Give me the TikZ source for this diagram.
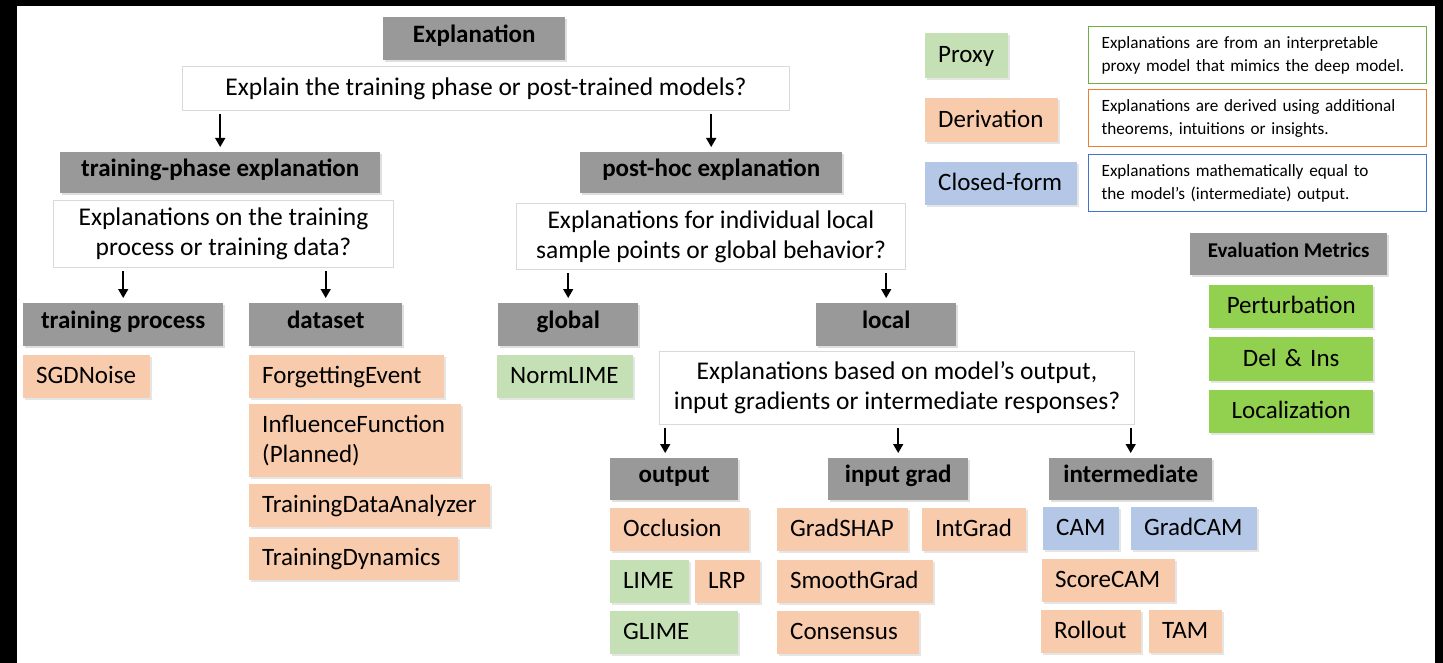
\documentclass[tikz,border=0pt]{standalone}
\usepackage{fontspec}
\setmainfont{Carlito}
\usetikzlibrary{arrows.meta,shadows}

\definecolor{headgray}{HTML}{999999}
\definecolor{derivfill}{HTML}{F8CBAD}
\definecolor{proxyfill}{HTML}{C5E0B4}
\definecolor{closedfill}{HTML}{B4C7E7}
\definecolor{metricfill}{HTML}{92D050}
\definecolor{qborder}{HTML}{D9D9D9}
\definecolor{proxyline}{HTML}{70AD47}
\definecolor{derivline}{HTML}{ED7D31}
\definecolor{closedline}{HTML}{4472C4}

\begin{document}
\begin{tikzpicture}[x=1pt, y=-1pt,
    head/.style={anchor=north west, fill=headgray, inner sep=0pt,
      font=\bfseries\fontsize{25}{29}\selectfont, text height=17pt, text depth=10pt,
      drop shadow={opacity=0.25, shadow xshift=1.5pt, shadow yshift=-1.5pt}},
    question/.style={anchor=north west, draw=qborder, line width=1pt, fill=white,
      inner sep=0pt, align=center, font=\fontsize{25.5}{30}\selectfont},
    method/.style={anchor=north west, inner xsep=13pt, inner ysep=0pt, minimum height=43pt,
      align=left, font=\fontsize{25}{30}\selectfont, text height=17pt, text depth=3pt,
      drop shadow={opacity=0.2, shadow xshift=1.5pt, shadow yshift=-1.5pt}},
    deriv/.style={method, fill=derivfill},
    proxy/.style={method, fill=proxyfill},
    closed/.style={method, fill=closedfill},
    metric/.style={method, fill=metricfill, align=center, text width=138pt},
    desc/.style={anchor=north west, line width=1.2pt, fill=white, inner xsep=13pt, inner ysep=0pt,
      minimum height=57pt, text width=312pt, align=left, font=\fontsize{17.2}{23}\selectfont},
    arr/.style={-{Triangle[length=9pt,width=10pt]}, line width=1.6pt, shorten <=3pt, shorten >=5pt}]

    % Frame
    \useasboundingbox (0,0) rectangle (1443,663);
    \fill[black] (0,0) rectangle (1443,663);
    \fill[white] (17,6) rectangle (1435,663);

    % Tree headers
    \node[head, minimum width=182pt, minimum height=43pt] (expl) at (383,17) {Explanation};
    \node[head, minimum width=320pt, minimum height=41pt] (tphase) at (60,152) {training-phase explanation};
    \node[head, minimum width=262pt, minimum height=41pt] (posthoc) at (580,152) {post-hoc explanation};
    \node[head, minimum width=200pt, minimum height=43pt] (tproc) at (23,303) {training process};
    \node[head, minimum width=153pt, minimum height=43pt] (dataset) at (249,303) {dataset};
    \node[head, minimum width=140pt, minimum height=43pt] (global) at (498,303) {global};
    \node[head, minimum width=140pt, minimum height=43pt] (local) at (816,303) {local};
    \node[head, minimum width=128pt, minimum height=42pt] (outhead) at (610,458) {output};
    \node[head, minimum width=140pt, minimum height=42pt] (inhead) at (828,458) {input grad};
    \node[head, minimum width=163pt, minimum height=42pt] (midhead) at (1049,458) {intermediate};

    % Questions
    \node[question, minimum width=607pt, minimum height=44pt] (q1) at (182,66)
        {Explain the training phase or post-trained models?};
    \node[question, minimum width=340pt, minimum height=67pt] (q2) at (53,200)
        {Explanations on the training\\process or training data?};
    \node[question, minimum width=389pt, minimum height=66pt] (q3) at (516,203)
        {Explanations for individual local\\sample points or global behavior?};
    \node[question, minimum width=475pt, minimum height=73pt] (q4) at (659,351)
        {Explanations based on model's output,\\input gradients or intermediate responses?};

    % Methods
    \node[deriv, text width=101pt] (sgd) at (23,355) {SGDNoise};
    \node[deriv, text width=169pt] (forget) at (249,355) {ForgettingEvent};
    \node[deriv, text width=186pt, minimum height=73pt, text height=, text depth=] (influence) at (249,404)
        {InfluenceFunction\\(Planned)};
    \node[deriv, text width=215pt] (tda) at (249,484) {TrainingDataAnalyzer};
    \node[deriv, text width=183pt] (dynamics) at (249,537) {TrainingDynamics};
    \node[proxy, text width=110pt] (normlime) at (497,355) {NormLIME};
    \node[deriv, text width=113pt] (occlusion) at (610,508) {Occlusion};
    \node[proxy, text width=53pt] (lime) at (610,560) {LIME};
    \node[deriv, text width=39pt] (lrp) at (695,560) {LRP};
    \node[proxy, text width=102pt] (glime) at (610,611) {GLIME};
    \node[deriv, text width=105pt] (gradshap) at (777,508) {GradSHAP};
    \node[deriv, text width=78pt] (intgrad) at (922,508) {IntGrad};
    \node[deriv, text width=130pt] (smoothgrad) at (777,560) {SmoothGrad};
    \node[deriv, text width=116pt] (consensus) at (777,611) {Consensus};
    \node[closed, text width=50pt] (cam) at (1043,507) {CAM};
    \node[closed, text width=100pt] (gradcam) at (1131,507) {GradCAM};
    \node[deriv, text width=107pt] (scorecam) at (1042,559) {ScoreCAM};
    \node[deriv, text width=74pt] (rollout) at (1041,610) {Rollout};
    \node[deriv, text width=47pt] (tam) at (1149,610) {TAM};

    % Legend
    \node[proxy, text width=57pt, minimum height=45pt] (proxyleg) at (925,33) {Proxy};
    \node[deriv, text width=107pt, minimum height=44pt] (derivleg) at (925,98) {Derivation};
    \node[closed, text width=126pt] (closedleg) at (925,162) {Closed-form};
    \node[desc, draw=proxyline] (proxydesc) at (1088,26)
        {Explanations are from an interpretable\\proxy model that mimics the deep model.};
    \node[desc, draw=derivline] (derivdesc) at (1088,89)
        {Explanations are derived using additional\\theorems, intuitions or insights.};
    \node[desc, draw=closedline] (closeddesc) at (1088,154)
        {Explanations mathematically equal to\\the model's (intermediate) output.};

    % Evaluation metrics
    \node[head, minimum width=197pt, minimum height=42pt, font=\bfseries\fontsize{21}{24}\selectfont,
        text height=14pt, text depth=8pt] (evalhead) at (1190,233) {Evaluation Metrics};
    \node[metric] (perturb) at (1209,285) {Perturbation};
    \node[metric, minimum height=44pt] (delins) at (1209,337) {Del \& Ins};
    \node[metric] (localize) at (1209,390) {Localization};

    % Arrows
    \coordinate (outtop) at ([xshift=-9pt]outhead.north);
    \draw[arr] (q1.south -| tphase.north) -- (tphase.north);
    \draw[arr] (q1.south -| posthoc.north) -- (posthoc.north);
    \draw[arr] (q2.south -| tproc.north) -- (tproc.north);
    \draw[arr] (q2.south -| dataset.north) -- (dataset.north);
    \draw[arr] (q3.south -| global.north) -- (global.north);
    \draw[arr] (q3.south -| local.north) -- (local.north);
    \draw[arr] (q4.south -| outtop) -- (outtop);
    \draw[arr] (q4.south -| inhead.north) -- (inhead.north);
    \draw[arr] (q4.south -| midhead.north) -- (midhead.north);
\end{tikzpicture}
\end{document}
